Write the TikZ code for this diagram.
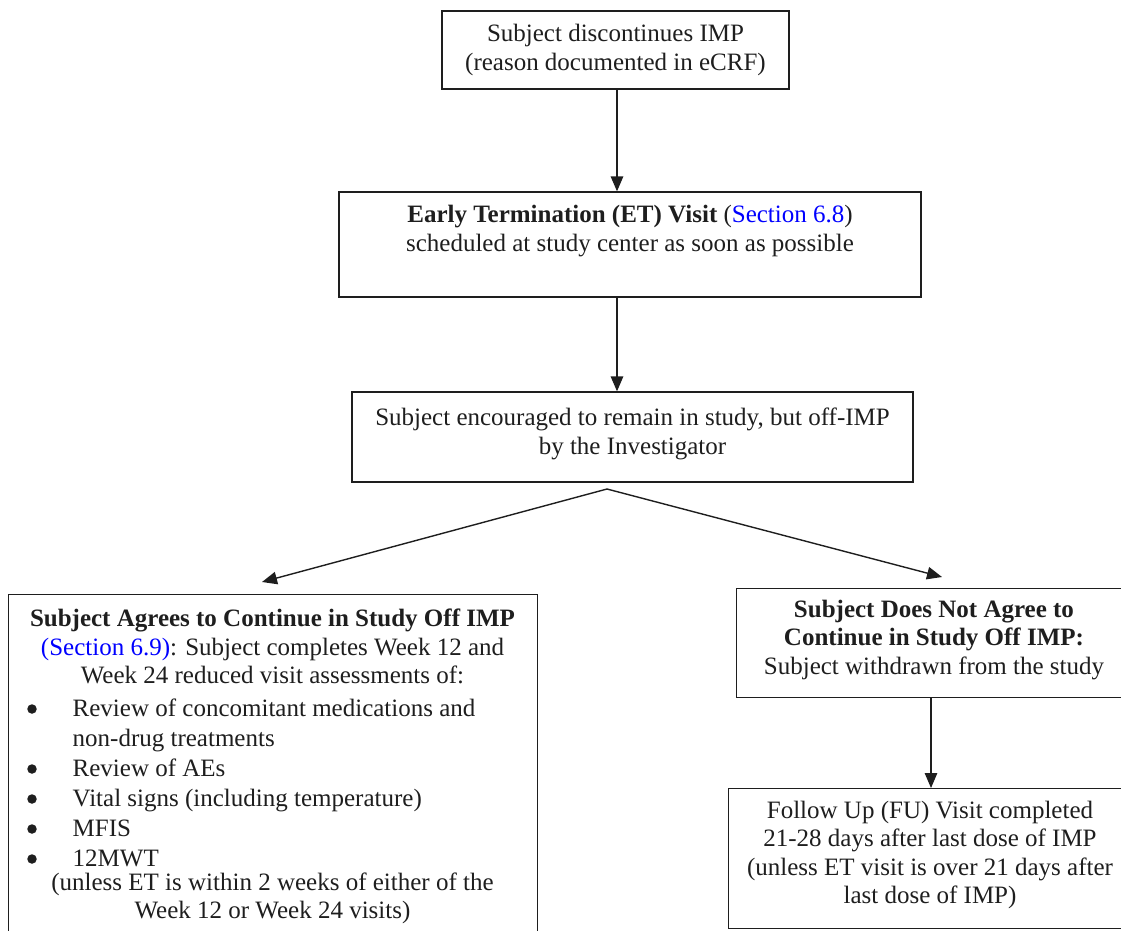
\documentclass[tikz,border=0pt]{standalone}
\usepackage{fontspec}
\setmainfont{Liberation Serif}
\usetikzlibrary{arrows.meta}
\definecolor{linkblue}{RGB}{0,0,255}
\definecolor{edge}{RGB}{30,30,30}
\begin{document}
\begin{tikzpicture}[x=1pt,y=-1pt,
  box/.style={draw=edge, line width=1.3pt, rectangle, inner sep=0pt},
  txt/.style={align=center, inner sep=0pt, font=\fontsize{25}{28.5}\selectfont, text=edge},
  ltxt/.style={align=left, inner sep=0pt, font=\fontsize{25}{30}\selectfont, text=edge},
  bul/.style={circle, fill=edge, inner sep=0pt, minimum size=9.5pt},
  arr/.style={draw=edge, line width=1.4pt, -{Triangle[length=15pt,width=12.5pt]}}]
\useasboundingbox (0,0) rectangle (1121,930);

% boxes
\node[box, minimum width=347, minimum height=78] (discont) at (615.5,50) {};
\node[txt] (discontxt) at (615.5,50) {Subject discontinues IMP\\(reason documented in eCRF)};

\node[box, minimum width=582, minimum height=105] (et) at (630,244.5) {};
\node[txt] (ettxt) at (630,231) {\textbf{Early Termination (ET) Visit} ({\color{linkblue}Section 6.8})\\scheduled at study center as soon as possible};

\node[box, minimum width=561, minimum height=90] (enc) at (632.5,437) {};
\node[txt] (enctxt) at (632.5,434) {Subject encouraged to remain in study, but off-IMP\\by the Investigator};

\node[box, minimum width=529, minimum height=350, anchor=north west] (agree) at (8,593.5) {};
\node[txt] (agreehead) at (272.5,646.5) {\textbf{Subject Agrees to Continue in Study Off IMP}\\{\color{linkblue}(Section 6.9)}: Subject completes Week 12 and\\Week 24 reduced visit assessments of:};
\node[ltxt, anchor=west] (agreelist) at (72.5,783) {%
Review of concomitant medications and\\
non-drug treatments\\
Review of AEs\\
Vital signs (including temperature)\\
MFIS\\
12MWT};
\node[bul] (bul1) at (32,709) {};
\node[bul] (bul2) at (32,769) {};
\node[bul] (bul3) at (32,799) {};
\node[bul] (bul4) at (32,829) {};
\node[bul] (bul5) at (32,859) {};
\node[txt] (agreetail) at (272.5,898.5) {(unless ET is within 2 weeks of either of the\\Week 12 or Week 24 visits)};

\node[box, minimum width=396, minimum height=109, anchor=north west] (notagree) at (736,588) {};
\node[txt] (notagreetxt) at (934,640) {\textbf{Subject Does Not Agree to}\\\textbf{Continue in Study Off IMP:}\\Subject withdrawn from the study};

\node[box, minimum width=404, minimum height=140, anchor=north west] (fu) at (728,788) {};
\node[txt] (futxt) at (930,855) {Follow Up (FU) Visit completed\\21-28 days after last dose of IMP\\(unless ET visit is over 21 days after\\last dose of IMP)};

% connectors
\coordinate (x1) at (617,0);
\draw[arr] (discont.south -| x1) -- (et.north -| x1);
\draw[arr] (et.south -| x1) -- (enc.north -| x1);
\coordinate (split) at (607,489);
\coordinate (lt) at (262,582);
\coordinate (rt) at (942,577);
\draw[arr] (split) -- (lt);
\draw[arr] (split) -- (rt);
\coordinate (x2) at (931,0);
\draw[arr] (notagree.south -| x2) -- (fu.north -| x2);
\end{tikzpicture}
\end{document}
